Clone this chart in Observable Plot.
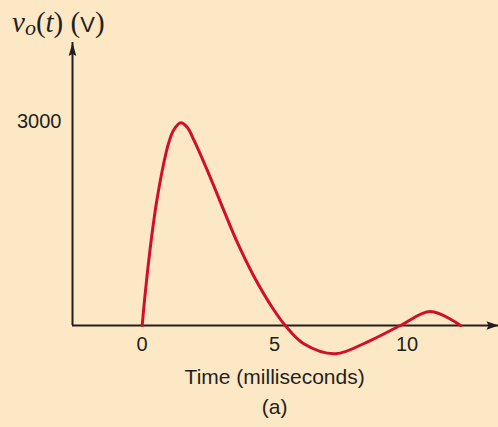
<!DOCTYPE html>
<html>
<head>
<meta charset="utf-8">
<script src="https://cdn.jsdelivr.net/npm/d3@7"></script>
<script src="https://cdn.jsdelivr.net/npm/@observablehq/plot@0.6"></script>
<style>
  html, body { margin: 0; padding: 0; background: #fde8c6; }
  #chart { width: 498px; height: 427px; }
</style>
</head>
<body>
<div id="chart"></div>
<script>
// Data
const timeMs = [0, 0.087, 0.23, 0.38, 0.55, 0.82, 1.0, 1.19, 1.45, 1.70, 1.95, 2.57, 3.07, 3.57, 4.2, 4.96, 5.4, 6.10, 7.29, 8.61, 9.75, 10.88, 12.02];
const voltage = [0, 365, 894, 1374, 1833, 2400, 2688, 2878, 2985, 2920, 2732, 2181, 1706, 1241, 737, 235, 0, -269, -416, -221, 0, 206, 0];
const xTicks = [0, 5, 10];
const yTicks = [3000];
const xLabel = "Time (milliseconds)";
const panelLabel = "(a)";

const data = timeMs.map((t, i) => ({t, v: voltage[i]}));

const xMin = -2.63, xMax = 13.45;
const yTop = 4167;
const axisColor = "#231f20";
const curveColor = "#d0102b";
const sans = "'Liberation Sans', Arial, sans-serif";

const arrowUp = { draw(ctx) { ctx.moveTo(0, 0); ctx.lineTo(3.8, 13.5); ctx.lineTo(0, 11.5); ctx.lineTo(-3.8, 13.5); ctx.closePath(); } };
const arrowRight = { draw(ctx) { ctx.moveTo(0, 0); ctx.lineTo(-12, -4.2); ctx.lineTo(-10, 0); ctx.lineTo(-12, 4.2); ctx.closePath(); } };

const plot = Plot.plot({
  width: 498,
  height: 427,
  marginLeft: 72,
  marginRight: 0,
  marginTop: 42,
  marginBottom: 102,
  x: {domain: [xMin, xMax]},
  y: {domain: [0, yTop]},
  style: {background: "#fde8c6", fontFamily: sans, fontSize: "20px", color: axisColor, overflow: "visible"},
  marks: [
    Plot.ruleX([xMin], {y1: 0, y2: yTop, stroke: axisColor, strokeWidth: 2}),
    Plot.ruleY([0], {x1: xMin, x2: xMax, stroke: axisColor, strokeWidth: 2}),
    Plot.dot([{x: xMin, y: yTop}], {x: "x", y: "y", symbol: arrowUp, fill: axisColor, stroke: null}),
    Plot.dot([{x: xMax, y: 0}], {x: "x", y: "y", symbol: arrowRight, fill: axisColor, stroke: null}),
    Plot.axisX(xTicks, {tickSize: 0, tickPadding: 11, label: null, fill: axisColor, fontSize: 20, tickFormat: d => String(d)}),
    Plot.axisY(yTicks, {tickSize: 0, tickPadding: 11, label: null, fill: axisColor, fontSize: 20, tickFormat: d => String(d)}),
    Plot.line(data, {x: "t", y: "v", stroke: curveColor, strokeWidth: 3, curve: "catmull-rom"}),
    Plot.text([xLabel], {x: [5], text: d => d, frameAnchor: "bottom", dy: 58, fill: axisColor, fontSize: 21}),
    Plot.text([panelLabel], {x: [5], text: d => d, frameAnchor: "bottom", dy: 88, fill: axisColor, fontSize: 21})
  ]
});

// y-axis title with math styling: v_o(t) (V)
const svg = d3.select(plot);
const title = svg.append("text")
  .attr("x", 12).attr("y", 32)
  .attr("text-anchor", "start")
  .attr("fill", axisColor)
  .style("font-family", "'Liberation Serif', 'Times New Roman', serif")
  .style("font-size", "29px");
title.append("tspan").style("font-style", "italic").text("v");
title.append("tspan").style("font-style", "italic").style("font-size", "22px").attr("dy", 3).text("o");
title.append("tspan").attr("dy", -3).text("(");
title.append("tspan").style("font-style", "italic").text("t");
title.append("tspan").text(") (");
title.append("tspan").style("font-family", sans).style("font-size", "22px").text("V");
title.append("tspan").text(")");

document.getElementById("chart").appendChild(plot);
</script>
</body>
</html>
